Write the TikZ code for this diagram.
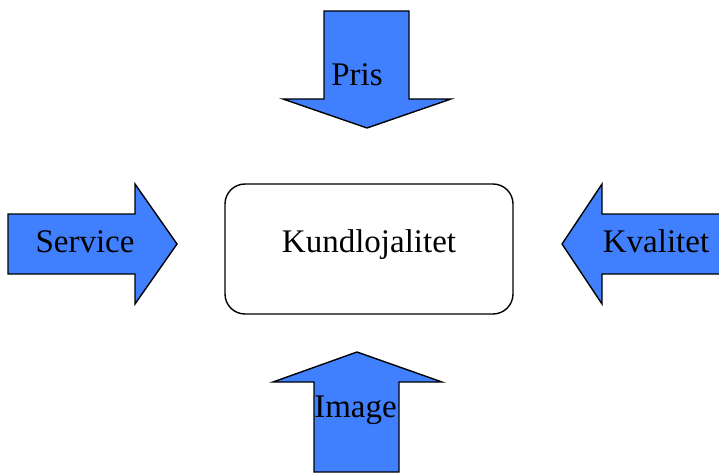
\documentclass[tikz,border=0pt]{standalone}
\usepackage{fontspec}
\setmainfont{Liberation Serif}
\definecolor{arrowblue}{RGB}{64,128,255}
\tikzset{
  blockarrow/.style={draw=black, fill=arrowblue, line width=1.4pt, line join=miter},
  centerbox/.style={draw=black, line width=1.4pt, rounded corners=20pt},
  lbl/.style={anchor=base, inner sep=0pt, font=\fontsize{33}{38}\selectfont}
}
\begin{document}
\begin{tikzpicture}[x=1pt, y=-1pt]
  \useasboundingbox (0,0) rectangle (719,473);
  \clip (0,0) rectangle (719,473);

  % centre box
  \draw[centerbox] (225,184) rectangle (513,314);
  \node[lbl] (kund) at (369,252) {Kundlojalitet};

  % top arrow (pointing down)
  \draw[blockarrow] (324,11) -- (409,11) -- (409,99) -- (451,99) -- (367,128)
        -- (283,99) -- (324,99) -- cycle;
  \node[lbl] (pris) at (357,86) {Pris};

  % left arrow (pointing right)
  \draw[blockarrow] (8,214) -- (135,214) -- (135,184) -- (177,244) -- (135,304)
        -- (135,274) -- (8,274) -- cycle;
  \node[lbl] (service) at (85,252) {Service};

  % right arrow (pointing left)
  \draw[blockarrow] (730,214) -- (602,214) -- (602,184) -- (562,244) -- (602,304)
        -- (602,274) -- (730,274);
  \node[lbl] (kvalitet) at (656,252) {Kvalitet};

  % bottom arrow (pointing up)
  \draw[blockarrow] (314,472) -- (314,382) -- (273,382) -- (357,352) -- (442,382)
        -- (399,382) -- (399,472) -- cycle;
  \node[lbl] (image) at (355.5,417) {Image};
\end{tikzpicture}
\end{document}
